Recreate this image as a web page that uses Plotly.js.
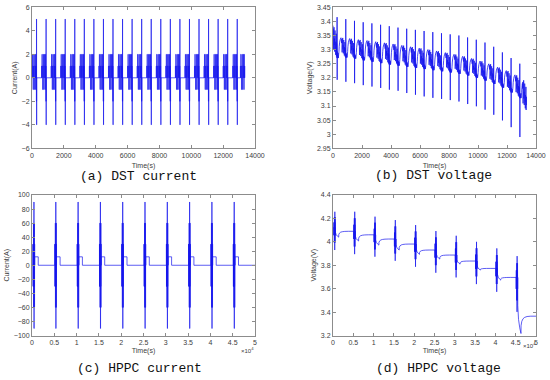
<!DOCTYPE html>
<html><head><meta charset="utf-8">
<script src="https://cdn.plot.ly/plotly-3.0.1.min.js"></script>
<style>html,body{margin:0;padding:0;background:#fff}#chart{width:550px;height:380px}</style>
</head><body><div id="chart"></div>
<script>
// ---------------- DST test (panels a, b) ----------------
const dstCycleStart = [0,600,1200,1800,2400,3000,3600,4200,4800,5400,6000,6600,7200,7800,8400,9000,9600,10200,10800,11400,12000,12600,13080];
const dstHasSpike   = [1,1,1,1,1,1,1,1,1,1,1,1,1,1,1,1,1,1,1,1,1,1,0];
// one DST block (offset s, current A)
const dstStepT = [0,14,28,42,56,70,84,98,112,126,140,154,168,182,196,210,224,238,252,266,276,282,288,294,300];
const dstStepI = [1,0,2,1,0,-1,1,0,2,1,-1,0,1,2,0,1,-1,2,0,1,-2,5,-4,-2,0];
// voltage position inside the block band (0 = rest level, 1 = band bottom; H/L = spike)
const dstStepVFrac = [0.3,0.1,0.75,0.5,0.3,0.05,0.6,0.4,0.8,0.55,0.15,0.45,0.65,0.9,0.5,0.7,0.25,0.95,0.55,0.8,1.0,'H','L',0.95,0.85];
const dstVTop     = [3.385,3.345,3.342,3.338,3.335,3.331,3.327,3.323,3.318,3.313,3.308,3.303,3.298,3.292,3.286,3.279,3.271,3.262,3.252,3.24,3.228,3.213,3.197];
const dstVBandLow = [3.27,3.272,3.268,3.262,3.257,3.252,3.247,3.243,3.239,3.235,3.231,3.227,3.223,3.219,3.214,3.208,3.2,3.19,3.178,3.165,3.148,3.128,3.08];
const dstVSpikeHi = [3.415,3.408,3.402,3.397,3.393,3.388,3.383,3.378,3.374,3.37,3.366,3.362,3.358,3.354,3.35,3.343,3.335,3.325,3.31,3.29,3.27,3.25,null];
const dstVSpikeLo = [3.193,3.186,3.181,3.174,3.169,3.164,3.158,3.154,3.146,3.14,3.134,3.129,3.125,3.121,3.116,3.107,3.099,3.087,3.069,3.049,3.025,2.99,null];
const dstAfterT = [310,330,350,370,390];
const dstAfterFrac = [0.8,1.0,0.85,1.0,0.9];
const dstRelaxT = [410,430,460,500,550,600];
const dstRelaxFrac = [0.3,0.55,0.75,0.88,0.96,1.0];
const dstXTicks = [0,2000,4000,6000,8000,10000,12000,14000];
const dstXTickText = ['0','2000','4000','6000','8000','10000','12000','14000'];
const dstCurTicks = [-6,-4,-2,0,2,4,6];
const dstVoltTicks = [2.95,3,3.05,3.1,3.15,3.2,3.25,3.3,3.35,3.4,3.45];
const dstVoltTickText = ['2.95','3','3.05','3.1','3.15','3.2','3.25','3.3','3.35','3.4','3.45'];

// ---------------- HPPC test (panels c, d) ----------------
const hpPulseT = [200,5100,10100,15100,20100,25100,30100,35100,40100,45100];
const hpPulseOffT = [0,25,50,75,100,125,150,175,200,225,250,275,300,325,350,375,400];
const hpPulseI = [0,30,-30,30,-30,60,-60,30,-30,90,-90,30,-30,60,-60,30,0];
const hpStepI = 12;
const hpStepOn = 400, hpStepOff = 1200;
const hpVPre = [4.12,4.09,4.06,4.024,3.981,3.93,3.887,3.836,3.773,3.696];
const hpVTop = [4.257,4.257,4.215,4.186,4.143,4.092,4.052,4.0,3.944,3.878];
const hpVBot = [3.93,3.895,3.873,3.838,3.787,3.736,3.696,3.639,3.573,3.402];
const hpVDip = [4.04,4.007,3.972,3.93,3.893,3.853,3.81,3.759,3.673,3.217];
const hpVEnd = 3.365;
const hpStepVT = [410,600,900,1200];
const hpStepVFrac = [0.5,0.75,0.9,1.0];
const hpRelaxVT = [1220,1400,1700,2100,2700,3600];
const hpRelaxVFrac = [0.45,0.7,0.85,0.93,0.98,1.0];
const hpXTicks = [0,5000,10000,15000,20000,25000,30000,35000,40000,45000,50000];
const hpXTickText = ['0','0.5','1','1.5','2','2.5','3','3.5','4','4.5','5'];
const hpCurTicks = [-100,-80,-60,-40,-20,0,20,40,60,80,100];
const hpVoltTicks = [3.2,3.4,3.6,3.8,4,4.2,4.4];

// ---------- build traces ----------
const ax=[0], ay=[0];
dstCycleStart.forEach((t0,i)=>{
  const full = dstHasSpike[i]===1;
  for(let j=0;j<dstStepT.length;j++){
    if(!full && dstStepT[j]>=276) break;
    ax.push(t0+dstStepT[j]); ay.push(dstStepI[j]);
  }
  if(!full){ ax.push(t0+276); ay.push(0); }
});

const bx=[], by=[];
dstCycleStart.forEach((t0,i)=>{
  const full = dstHasSpike[i]===1;
  const top=dstVTop[i], low=dstVBandLow[i];
  if(i===0){ bx.push(0); by.push(top); }
  for(let j=0;j<dstStepT.length;j++){
    if(!full && dstStepT[j]>=276) break;
    const f=dstStepVFrac[j];
    let v;
    if(f==='H') v=dstVSpikeHi[i]; else if(f==='L') v=dstVSpikeLo[i]; else v=top-f*(top-low);
    bx.push(t0+dstStepT[j]+(j===0&&i===0?5:0)); by.push(v);
  }
  if(full){
    for(let k=0;k<dstAfterT.length;k++){ bx.push(t0+dstAfterT[k]); by.push(top-dstAfterFrac[k]*(top-low)); }
    const next=dstCycleStart[i+1], nTop=dstVTop[i+1];
    for(let k=0;k<dstRelaxT.length;k++){
      const t=t0+dstRelaxT[k]; if(t>=next) break;
      bx.push(t); by.push(low+dstRelaxFrac[k]*(nTop-low));
    }
  }
});

const cx=[0], cy=[0];
hpPulseT.forEach(tp=>{
  for(let j=0;j<hpPulseOffT.length;j++){ cx.push(tp+hpPulseOffT[j]); cy.push(hpPulseI[j]); }
  cx.push(tp+hpStepOn); cy.push(hpStepI);
  cx.push(tp+hpStepOff); cy.push(0);
});
cx.push(50000); cy.push(0);

const dx=[0], dy=[hpVPre[0]];
hpPulseT.forEach((tp,i)=>{
  const pre=hpVPre[i], top=hpVTop[i], bot=hpVBot[i], dip=hpVDip[i];
  const post = i<hpPulseT.length-1 ? hpVPre[i+1] : hpVEnd;
  for(let j=0;j<hpPulseOffT.length;j++){
    const I=hpPulseI[j];
    const v = I>0 ? pre-(I/90)*(pre-bot) : pre+(-I/90)*(top-pre);
    dx.push(tp+hpPulseOffT[j]); dy.push(v);
  }
  for(let k=0;k<hpStepVT.length;k++){ dx.push(tp+hpStepVT[k]); dy.push(pre-hpStepVFrac[k]*(pre-dip)); }
  for(let k=0;k<hpRelaxVT.length;k++){ dx.push(tp+hpRelaxVT[k]); dy.push(dip+hpRelaxVFrac[k]*(post-dip)); }
});
dx.push(50000); dy.push(hpVEnd);

const lineCol='rgb(25,25,238)';
const traces=[
  {x:ax,y:ay,xaxis:'x',yaxis:'y',mode:'lines',line:{color:lineCol,width:0.7,shape:'hv',simplify:false},hoverinfo:'skip'},
  {x:bx,y:by,xaxis:'x2',yaxis:'y2',mode:'lines',line:{color:lineCol,width:0.8,simplify:false},hoverinfo:'skip'},
  {x:cx,y:cy,xaxis:'x3',yaxis:'y3',mode:'lines',line:{color:lineCol,width:0.7,shape:'hv',simplify:false},hoverinfo:'skip'},
  {x:dx,y:dy,xaxis:'x4',yaxis:'y4',mode:'lines',line:{color:lineCol,width:0.7,simplify:false},hoverinfo:'skip'}
];

const W=550,H=380;
const px=v=>v/W, py=v=>1-v/H;
const tickFont={family:'Liberation Sans, Arial, sans-serif',size:7,color:'#404040'};
const titleFont={family:'Liberation Sans, Arial, sans-serif',size:7,color:'#404040'};
function axis(extra){
  return Object.assign({showline:true,linecolor:'#8c8c8c',linewidth:1,mirror:'ticks',ticks:'inside',ticklen:3,tickcolor:'#8c8c8c',
    showgrid:false,zeroline:false,tickfont:tickFont,automargin:false,fixedrange:true},extra);
}
const left1=[px(32),px(255)], left2=[px(333),px(536)];
const top1=[py(148.3),py(7.3)], bot1=[py(335.5),py(195)];
const layout={
  width:W,height:H,margin:{l:0,r:0,t:0,b:0},paper_bgcolor:'#fff',plot_bgcolor:'#fff',showlegend:false,
  xaxis: axis({domain:left1,anchor:'y',range:[0,14000],tickvals:dstXTicks,ticktext:dstXTickText,title:{text:'Time(s)',font:titleFont,standoff:5}}),
  yaxis: axis({domain:top1,anchor:'x',range:[-6,6],tickvals:dstCurTicks,title:{text:'Current(A)',font:titleFont,standoff:3}}),
  xaxis2:axis({domain:left2,anchor:'y2',range:[0,14000],tickvals:dstXTicks,ticktext:dstXTickText,title:{text:'Time(s)',font:titleFont,standoff:5}}),
  yaxis2:axis({domain:top1,anchor:'x2',range:[2.95,3.45],tickvals:dstVoltTicks,ticktext:dstVoltTickText,title:{text:'Voltage(V)',font:titleFont,standoff:3}}),
  xaxis3:axis({domain:left1,anchor:'y3',range:[0,50000],tickvals:hpXTicks,ticktext:hpXTickText,title:{text:'Time(s)',font:titleFont,standoff:3}}),
  yaxis3:axis({domain:bot1,anchor:'x3',range:[-100,100],tickvals:hpCurTicks,title:{text:'Current(A)',font:titleFont,standoff:3}}),
  xaxis4:axis({domain:left2,anchor:'y4',range:[0,50000],tickvals:hpXTicks,ticktext:hpXTickText,title:{text:'Time(s)',font:titleFont,standoff:3}}),
  yaxis4:axis({domain:bot1,anchor:'x4',range:[3.2,4.4],tickvals:hpVoltTicks,title:{text:'Voltage(V)',font:titleFont,standoff:3}}),
  annotations:[
    {text:'(a) DST current',x:px(138),y:py(176)},
    {text:'(b) DST voltage',x:px(433),y:py(175)},
    {text:'(c) HPPC current',x:px(139),y:py(368)},
    {text:'(d) HPPC voltage',x:px(438),y:py(368)}
  ].map(a=>Object.assign({xref:'paper',yref:'paper',xanchor:'center',yanchor:'middle',showarrow:false,
      font:{family:'Liberation Mono, DejaVu Sans Mono, monospace',size:13,color:'#111'}},a))
  .concat([
    {text:'×10<sup>4</sup>',x:px(256),y:py(350),xanchor:'right',yanchor:'middle'},
    {text:'×10<sup>4</sup>',x:px(538),y:py(345),xanchor:'right',yanchor:'middle'}
  ].map(a=>Object.assign({xref:'paper',yref:'paper',showarrow:false,font:{family:'Liberation Sans, Arial, sans-serif',size:6,color:'#404040'}},a)))
};
Plotly.newPlot('chart',traces,layout,{staticPlot:true,displayModeBar:false});
</script>
</body></html>
